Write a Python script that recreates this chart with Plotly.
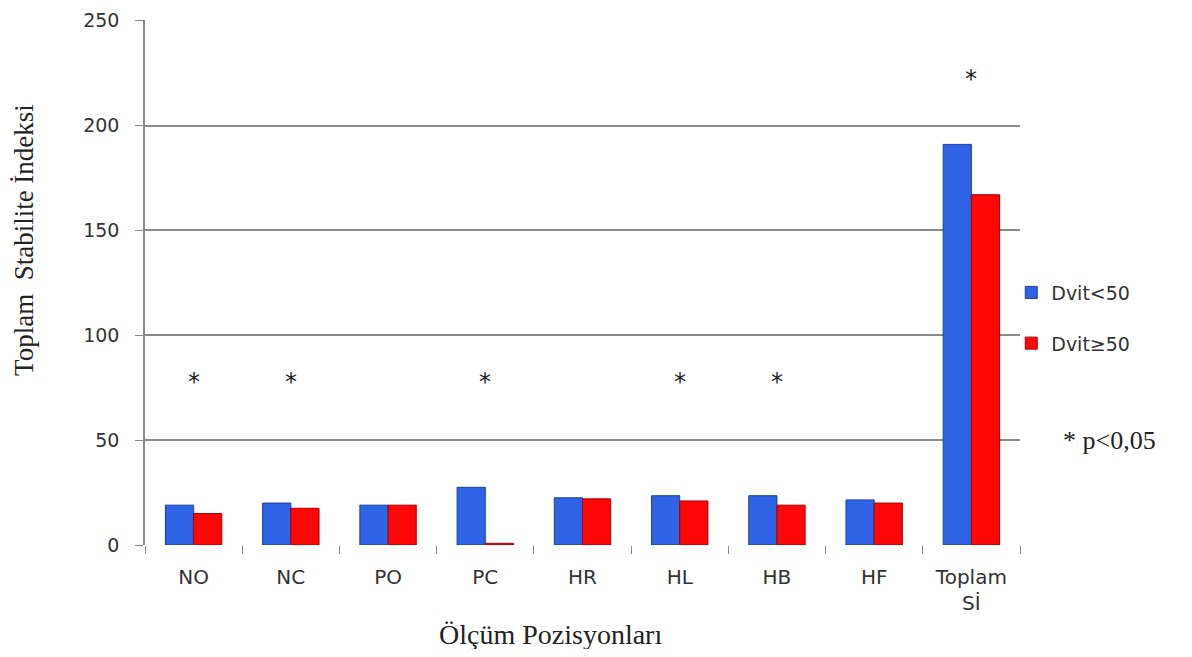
import plotly.graph_objects as go

categories = ["NO", "NC", "PO", "PC", "HR", "HL", "HB", "HF", "Toplam<br>Sİ"]
dvit_lt50 = [19, 20, 19, 27.5, 22.5, 23.5, 23.5, 21.5, 191]
dvit_ge50 = [15, 17.5, 19, 0.8, 22, 21, 19, 20, 167]
sig_categories = ["NO", "NC", "PC", "HL", "HB", "Toplam<br>Sİ"]
sig_levels = [79.5, 79.5, 79.5, 79.5, 79.5, 224]
y_ticks = [0, 50, 100, 150, 200, 250]

fig = go.Figure()
fig.add_trace(go.Bar(
    x=categories, y=dvit_lt50, name="Dvit<50",
    marker=dict(color="#2e63e6", line=dict(color="#1d3f9e", width=1)),
    legendgroup="a",
))
fig.add_trace(go.Bar(
    x=categories, y=dvit_ge50, name="Dvit≥50",
    marker=dict(color="#ff0707", line=dict(color="#a30000", width=1)),
    legendgroup="b",
))

for c, lv in zip(sig_categories, sig_levels):
    fig.add_annotation(x=c, y=lv, text="*", showarrow=False, xref="x", yref="y",
                       font=dict(family="DejaVu Sans", size=24, color="#222"),
                       yshift=-4)

fig.add_annotation(xref="paper", yref="paper", x=-0.1383, xanchor="center", y=0.581,
                   text="Toplam  Stabilite İndeksi", textangle=-90, showarrow=False,
                   font=dict(family="Liberation Serif", size=27, color="#222"))
fig.add_annotation(xref="paper", yref="paper", x=0.463, y=-0.171, yanchor="middle",
                   text="Ölçüm Pozisyonları", showarrow=False,
                   font=dict(family="Liberation Serif", size=28, color="#222"))
fig.add_annotation(xref="paper", yref="paper", x=1.047, xanchor="left", y=0.199, yanchor="middle",
                   text="* p<0,05", showarrow=False,
                   font=dict(family="Liberation Serif", size=26, color="#222"))

fig.update_layout(
    width=1176, height=641,
    margin=dict(l=137, r=164, t=12, b=104, autoexpand=False),
    paper_bgcolor="white", plot_bgcolor="white",
    barmode="group", bargap=0.42, bargroupgap=0,
    showlegend=True,
    legend=dict(x=0.99, xanchor="left", y=0.517, yanchor="top",
                font=dict(family="DejaVu Sans", size=19, color="#333"),
                tracegroupgap=23, traceorder="grouped", bgcolor="rgba(0,0,0,0)"),
    font=dict(family="DejaVu Sans", color="#333"),
)
fig.update_xaxes(showline=False, showgrid=False, ticks="outside", tickson="boundaries",
                 ticklen=8, tickcolor="#888", tickfont=dict(size=20, color="#333"),
                 ticklabelstandoff=18, automargin=False)
fig.update_yaxes(range=[0, 250.3], tickvals=y_ticks, showline=True, linecolor="#888", linewidth=1.5,
                 showgrid=True, gridcolor="#8a8a8a", gridwidth=1.5, zeroline=False,
                 ticks="outside", ticklen=8, tickcolor="#888", ticklabeloverflow="allow",
                 tickfont=dict(size=19, color="#333"), ticklabelstandoff=12, automargin=False)

fig.write_html("out.html")
